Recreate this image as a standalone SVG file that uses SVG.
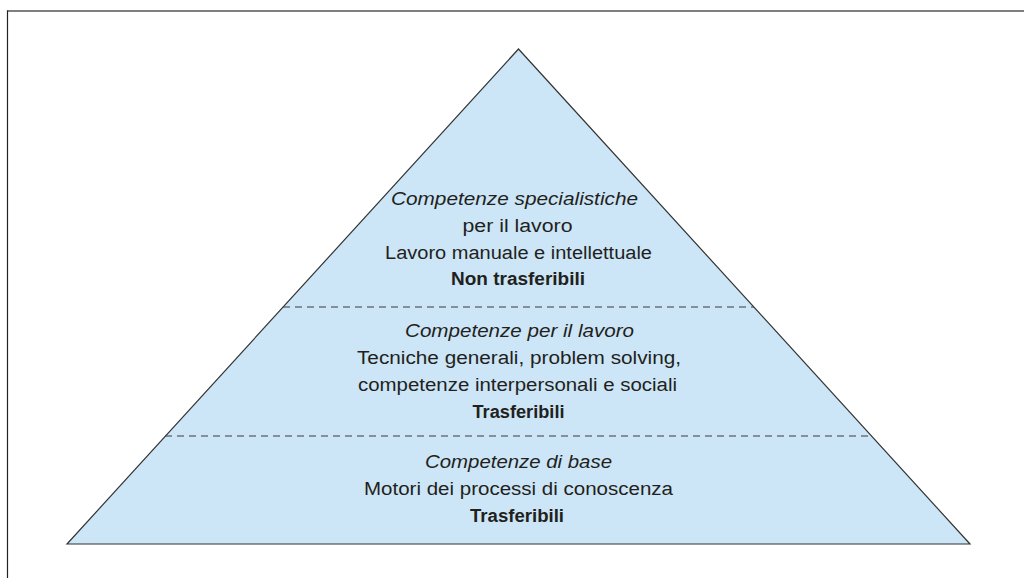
<svg xmlns="http://www.w3.org/2000/svg" width="1024" height="578" viewBox="0 0 1024 578">
<style>
.t{font-family:"Liberation Sans",Arial,sans-serif;font-size:18px;fill:#231f20;text-anchor:middle}
.i{font-style:italic}
.b{font-weight:bold}
.dash{stroke:#3a3a3a;stroke-width:1;stroke-dasharray:7,5;fill:none}
</style>
<rect width="1024" height="578" fill="#ffffff"/>
<g id="frame">
<line x1="7" y1="11" x2="1024" y2="11" stroke="#555" stroke-width="1.5"/>
<line x1="7.5" y1="10.5" x2="7.5" y2="578" stroke="#222" stroke-width="1.2"/>
</g>
<g id="pyramid">
<polygon points="518.5,49 970,544 67,544" fill="#cce6f7" stroke="#333" stroke-width="1.2" stroke-linejoin="miter"/>
</g>
<g id="dividers">
<line class="dash" x1="283" y1="307" x2="754" y2="307"/>
<line class="dash" x1="165" y1="436" x2="872" y2="436"/>
</g>
<g id="top-tier">
<text class="t i" x="514.5" y="205" textLength="247" lengthAdjust="spacingAndGlyphs">Competenze specialistiche</text>
<text class="t" x="517.5" y="232" textLength="110" lengthAdjust="spacingAndGlyphs">per il lavoro</text>
<text class="t" x="518.5" y="259" textLength="267" lengthAdjust="spacingAndGlyphs">Lavoro manuale e intellettuale</text>
<text class="t b" x="518" y="285" textLength="134" lengthAdjust="spacingAndGlyphs">Non trasferibili</text>
</g>
<g id="middle-tier">
<text class="t i" x="519.5" y="337" textLength="229" lengthAdjust="spacingAndGlyphs">Competenze per il lavoro</text>
<text class="t" x="519" y="364" textLength="324" lengthAdjust="spacingAndGlyphs">Tecniche generali, problem solving,</text>
<text class="t" x="517.5" y="391" textLength="319" lengthAdjust="spacingAndGlyphs">competenze interpersonali e sociali</text>
<text class="t b" x="518.5" y="418" textLength="92" lengthAdjust="spacingAndGlyphs">Trasferibili</text>
</g>
<g id="base-tier">
<text class="t i" x="518.5" y="468" textLength="187" lengthAdjust="spacingAndGlyphs">Competenze di base</text>
<text class="t" x="518.5" y="495" textLength="309" lengthAdjust="spacingAndGlyphs">Motori dei processi di conoscenza</text>
<text class="t b" x="517" y="522" textLength="94" lengthAdjust="spacingAndGlyphs">Trasferibili</text>
</g>
</svg>
